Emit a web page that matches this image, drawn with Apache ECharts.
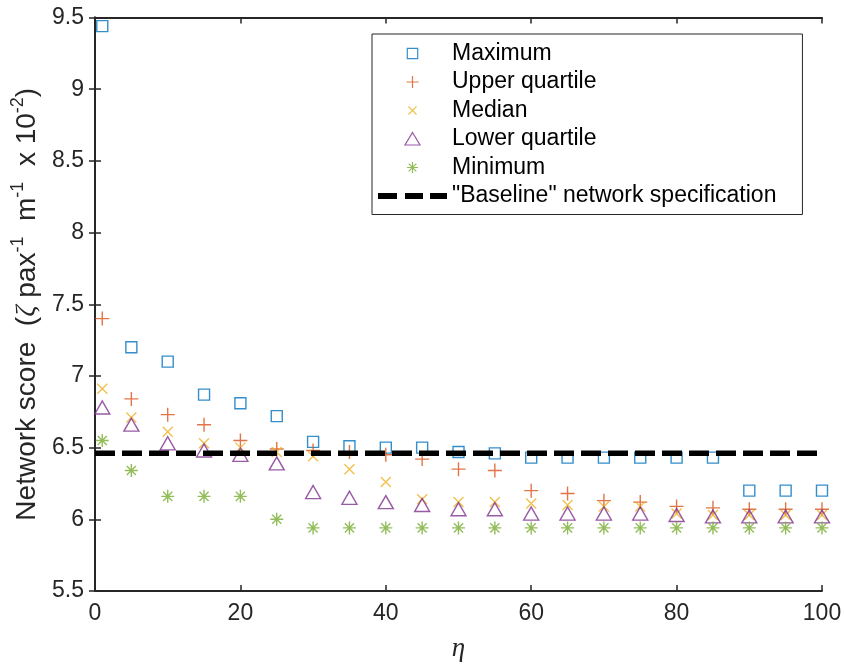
<!DOCTYPE html>
<html>
<head>
<meta charset="utf-8">
<script src="https://cdn.jsdelivr.net/npm/echarts@6/dist/echarts.min.js"></script>
<style>
html,body{margin:0;padding:0;background:#fff;}
#chart{width:844px;height:665px;}
</style>
</head>
<body>
<div id="chart"></div>
<script>
// ---- data ----
var etaValues = [1, 5, 10, 15, 20, 25, 30, 35, 40, 45, 50, 55, 60, 65, 70, 75, 80, 85, 90, 95, 100];
var maximumScores = [9.44, 7.20, 7.10, 6.87, 6.81, 6.72, 6.54, 6.51, 6.50, 6.50, 6.47, 6.46, 6.43, 6.43, 6.43, 6.43, 6.43, 6.43, 6.20, 6.20, 6.20];
var upperQuartileScores = [7.40, 6.84, 6.73, 6.66, 6.55, 6.49, 6.48, 6.47, 6.45, 6.42, 6.35, 6.34, 6.20, 6.18, 6.13, 6.12, 6.09, 6.08, 6.07, 6.07, 6.07];
var medianScores = [6.91, 6.71, 6.61, 6.53, 6.50, 6.47, 6.44, 6.35, 6.26, 6.14, 6.12, 6.12, 6.11, 6.10, 6.09, 6.09, 6.04, 6.03, 6.03, 6.03, 6.03];
var lowerQuartileScores = [6.78, 6.66, 6.53, 6.48, 6.45, 6.39, 6.19, 6.15, 6.12, 6.10, 6.07, 6.07, 6.04, 6.04, 6.04, 6.04, 6.03, 6.02, 6.02, 6.02, 6.02];
var minimumScores = [6.55, 6.34, 6.16, 6.16, 6.16, 6.00, 5.94, 5.94, 5.94, 5.94, 5.94, 5.94, 5.94, 5.94, 5.94, 5.94, 5.94, 5.94, 5.94, 5.94, 5.94];
var baselineEta = [0, 100];
var baselineScore = [6.46, 6.46];
var seriesNames = ['Maximum', 'Upper quartile', 'Median', 'Lower quartile', 'Minimum', '"Baseline" network specification'];
var xTicks = {min: 0, max: 100, interval: 20};
var yTicks = {min: 5.5, max: 9.5, interval: 0.5};

function pairs(xs, ys) { return xs.map(function (x, i) { return [x, ys[i]]; }); }

var FONT = 'Liberation Sans';
var AX = '#262626';
var SQUARE = 'path://M0,0 L10,0 L10,10 L0,10 Z';
var PLUS = 'path://M5,0 L5,10 M0,5 L10,5';
var CROSS = 'path://M0,0 L10,10 M10,0 L0,10';
var TRI = 'path://M5,0 L10,9 L0,9 Z';
var STAR = 'path://M5,0 L5,10 M0,5 L10,5 M1.5,1.5 L8.5,8.5 M8.5,1.5 L1.5,8.5';
// legend icons (padded so they render at the smaller legend size)
var LEG_SQUARE = 'path://M0,0 M14,14 M1.8,1.8 L12.2,1.8 L12.2,12.2 L1.8,12.2 Z';
var LEG_PLUS = 'path://M0,0 M14,14 M7,1 L7,13 M1,7 L13,7';
var LEG_CROSS = 'path://M0,0 M14,14 M3,3 L11,11 M11,3 L3,11';
var LEG_TRI = 'path://M0,0 M16,14 M8,0.5 L15.5,13 L0.5,13 Z';
var LEG_STAR = 'path://M0,0 M14,14 M7,1.5 L7,12.5 M1.5,7 L12.5,7 M3.2,3.2 L10.8,10.8 M10.8,3.2 L3.2,10.8';
var DASH_ICON = 'path://M0,0 L19,0 L19,6 L0,6 Z M27,0 L45,0 L45,6 L27,6 Z M52,0 L69,0 L69,6 L52,6 Z';

function scatter(name, data, symbol, size, color) {
  return {
    name: name, type: 'scatter', data: data, symbol: symbol, symbolSize: size,
    symbolKeepAspect: false,
    itemStyle: {color: 'transparent', borderColor: color, borderWidth: 1.4},
    emphasis: {disabled: true}, silent: true, z: 3
  };
}

var chart = echarts.init(document.getElementById('chart'));
var hiddenAxis = {
  axisLine: {show: true, lineStyle: {color: AX, width: 2}},
  axisTick: {show: true, inside: true, length: 6, lineStyle: {color: AX, width: 1.5}},
  axisLabel: {show: false}, splitLine: {show: false}
};
var legendIcons = [LEG_SQUARE, LEG_PLUS, LEG_CROSS, LEG_TRI, LEG_STAR, DASH_ICON];
var legendColors = ['#0072BD', '#D95319', '#EDB120', '#7E2F8E', '#77AC30'];
var legendData = seriesNames.map(function (n, i) {
  if (i === 5) return {name: n, icon: legendIcons[i], itemStyle: {color: '#000', borderWidth: 0}};
  return {name: n, icon: legendIcons[i], itemStyle: {color: 'transparent', borderColor: legendColors[i], borderWidth: 1.2}};
});

chart.setOption({
  animation: false,
  backgroundColor: '#fff',
  grid: {left: 95, right: 22, top: 17.5, bottom: 74, containLabel: false, outerBoundsMode: 'none'},
  xAxis: [
    Object.assign({type: 'value', position: 'bottom',
      min: xTicks.min, max: xTicks.max, interval: xTicks.interval,
      name: 'η', nameLocation: 'middle', nameGap: 44,
      nameTextStyle: {fontFamily: 'Liberation Serif', fontStyle: 'italic', fontSize: 27, color: AX}
    }, hiddenAxis, {
      axisLabel: {show: true, fontFamily: FONT, fontSize: 23, color: AX, margin: 11}
    }),
    Object.assign({type: 'value', position: 'top',
      min: xTicks.min, max: xTicks.max, interval: xTicks.interval}, hiddenAxis)
  ],
  yAxis: [
    Object.assign({type: 'value', position: 'left',
      min: yTicks.min, max: yTicks.max, interval: yTicks.interval,
      name: '{n|Network score  (}{z|ζ}{n| pax}{s|-1}{n|  m}{s|-1}{n|  x 10}{s|-2}{n|)}',
      nameLocation: 'middle', nameGap: 52,
      nameTextStyle: {
        color: AX,
        rich: {
          n: {fontFamily: FONT, fontSize: 28, color: AX, lineHeight: 32, verticalAlign: 'bottom'},
          z: {fontFamily: 'Liberation Serif', fontStyle: 'italic', fontSize: 28, color: AX, lineHeight: 32, verticalAlign: 'bottom'},
          s: {fontFamily: FONT, fontSize: 18, color: AX, lineHeight: 32, verticalAlign: 'top'}
        }
      }
    }, hiddenAxis, {
      axisLabel: {show: true, fontFamily: FONT, fontSize: 23, color: AX, margin: 11}
    }),
    Object.assign({type: 'value', position: 'right',
      min: yTicks.min, max: yTicks.max, interval: yTicks.interval}, hiddenAxis)
  ],
  legend: {
    orient: 'vertical', left: 372, top: 34,
    padding: [8, 26, 7, 6],
    itemGap: 5.5, itemWidth: 69, itemHeight: 14,
    backgroundColor: '#fff', borderColor: '#262626', borderWidth: 1,
    textStyle: {fontFamily: FONT, fontSize: 23, color: '#000'},
    symbolKeepAspect: true,
    data: legendData,
    selectedMode: false
  },
  series: [
    scatter(seriesNames[0], pairs(etaValues, maximumScores), SQUARE, [11, 11], '#0072BD'),
    scatter(seriesNames[1], pairs(etaValues, upperQuartileScores), PLUS, [14, 14], '#D95319'),
    scatter(seriesNames[2], pairs(etaValues, medianScores), CROSS, [10, 10], '#EDB120'),
    scatter(seriesNames[3], pairs(etaValues, lowerQuartileScores), TRI, [15, 13], '#7E2F8E'),
    scatter(seriesNames[4], pairs(etaValues, minimumScores), STAR, [13, 13], '#77AC30'),
    {
      name: seriesNames[5], type: 'line', data: pairs(baselineEta, baselineScore),
      symbol: 'none', showSymbol: false, silent: true, z: 4,
      lineStyle: {color: '#000', width: 5.5, type: [20, 7]},
      itemStyle: {color: '#000'}
    }
  ]
});
</script>
</body>
</html>
